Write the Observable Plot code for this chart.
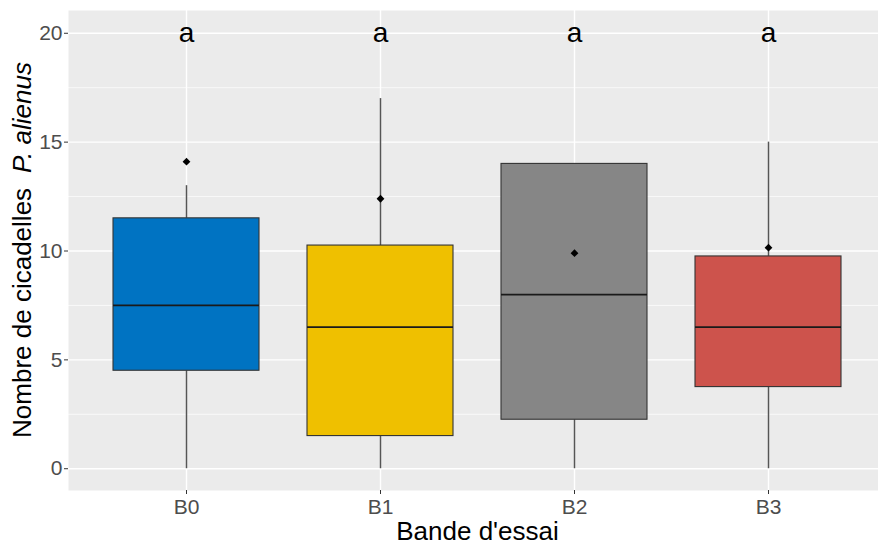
<!DOCTYPE html>
<html>
<head>
<meta charset="utf-8">
<script src="https://cdn.jsdelivr.net/npm/d3@7"></script>
<script src="https://cdn.jsdelivr.net/npm/@observablehq/plot@0.6"></script>
<style>
  html, body { margin: 0; padding: 0; background: #ffffff; }
  svg { display: block; }
</style>
</head>
<body>
<div id="chart"></div>
<script>
// ---- data ----
const bands   = ["B0", "B1", "B2", "B3"];
const colors  = ["#0073C2", "#EFC000", "#868686", "#CD534C"];
const mins    = [0, 0, 0, 0];
const q1s     = [4.5, 1.5, 2.25, 3.75];
const medians = [7.5, 6.5, 8, 6.5];
const q3s     = [11.5, 10.25, 14, 9.75];
const maxs    = [13, 17, 14, 15];
const means   = [14.1, 12.4, 9.9, 10.15];
const letters = ["a", "a", "a", "a"];
const letterY = 20;
const yTicks  = [0, 5, 10, 15, 20];
const yMinor  = [2.5, 7.5, 12.5, 17.5];
const xTitle  = "Bande d'essai";
const yTitle  = "Nombre de cicadelles";
const yTitleItalic = "P. alienus";

const data = bands.map((b, i) => ({
  band: b, min: mins[i], q1: q1s[i], median: medians[i], q3: q3s[i],
  max: maxs[i], mean: means[i], letter: letters[i], ly: letterY
}));

const font = "'Liberation Sans', Arial, sans-serif";

const chart = Plot.plot({
  width: 878,
  height: 547,
  marginLeft: 68,
  marginRight: 0,
  marginTop: 10,
  marginBottom: 57,
  style: { fontFamily: font, background: "#ffffff" },
  x: { type: "band", domain: bands, range: [68, 886], paddingInner: 0.25, paddingOuter: 0.225, label: null },
  y: { domain: [-1, 21], range: [490, 11], label: null },
  color: { domain: bands, range: colors },
  marks: [
    Plot.frame({ fill: "#EBEBEB", stroke: null }),
    Plot.gridY(yMinor, { stroke: "#ffffff", strokeOpacity: 1, strokeWidth: 0.7 }),
    Plot.gridY(yTicks, { stroke: "#ffffff", strokeOpacity: 1, strokeWidth: 1.4 }),
    Plot.gridX(bands, { stroke: "#ffffff", strokeOpacity: 1, strokeWidth: 1.4 }),
    Plot.axisY(yTicks, { tickSize: 4, tickPadding: 2, fontSize: 21, stroke: "#333333", fill: "#4D4D4D", label: null }),
    Plot.axisX(bands, { tickSize: 4, tickPadding: 5, fontSize: 21, stroke: "#333333", fill: "#4D4D4D", label: null }),
    Plot.ruleX(data, { x: "band", y1: "q3", y2: "max", stroke: "#555555", strokeWidth: 1.5 }),
    Plot.ruleX(data, { x: "band", y1: "min", y2: "q1", stroke: "#555555", strokeWidth: 1.5 }),
    Plot.barY(data, { x: "band", y1: "q1", y2: "q3", fill: "band", stroke: "#333333", strokeWidth: 1.1 }),
    Plot.tickY(data, { x: "band", y: "median", stroke: "#1a1a1a", strokeWidth: 1.7 }),
    Plot.dot(data, { x: "band", y: "mean", symbol: "diamond2", r: 3.5, fill: "#000000", stroke: null }),
    Plot.text(data, { x: "band", y: "ly", text: "letter", fontSize: 28, fill: "#000000" }),
    Plot.text([xTitle], { frameAnchor: "bottom", text: d => d, dx: 4, dy: 41, lineAnchor: "middle", fontSize: 26, fill: "#000000" })
  ]
});

// y-axis title with italic species name
const svg = d3.select(chart);
const t = svg.append("text")
  .attr("transform", "translate(31,250) rotate(-90)")
  .attr("text-anchor", "middle")
  .attr("font-family", font)
  .attr("font-size", 26)
  .attr("fill", "#000000");
t.append("tspan").text(yTitle);
t.append("tspan").attr("dx", 15).attr("font-style", "italic").text(yTitleItalic);

document.getElementById("chart").appendChild(chart);
</script>
</body>
</html>
